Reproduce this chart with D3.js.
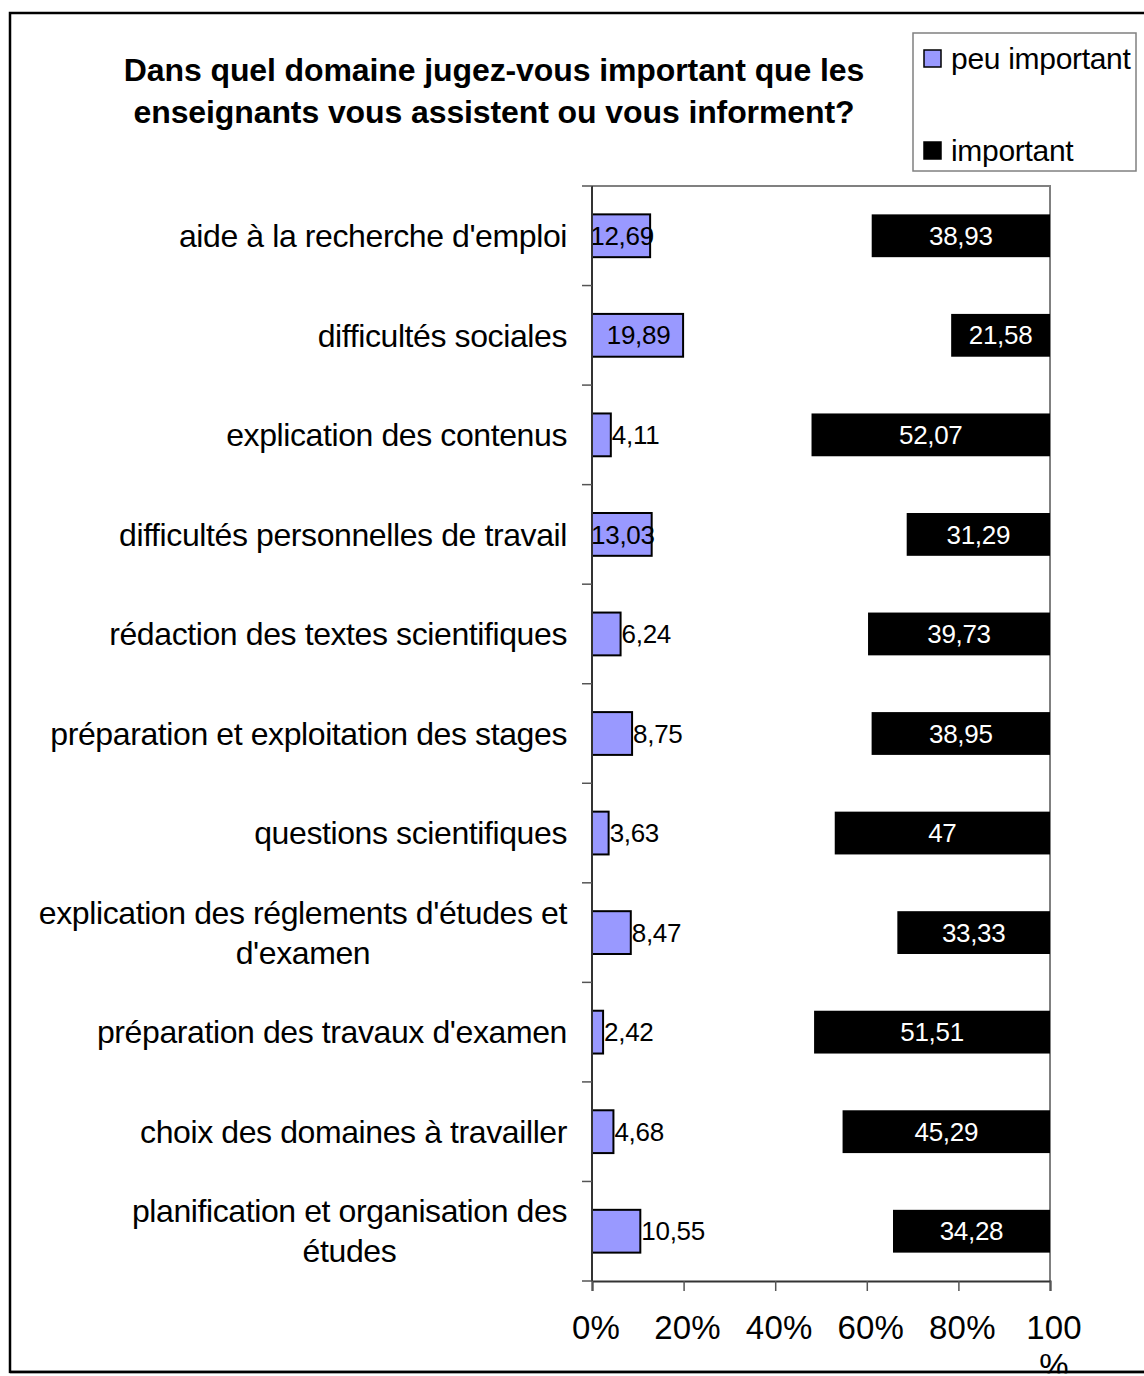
<!DOCTYPE html>
<html>
<head>
<meta charset="utf-8">
<script src="https://cdn.jsdelivr.net/npm/d3@7"></script>
<style>
  body { margin: 0; background: #fff; }
  text { font-family: "Liberation Sans", Arial, sans-serif; }
</style>
</head>
<body>
<div id="chart"></div>
<script>
// data
var categories = [
  "aide à la recherche d'emploi",
  "difficultés sociales",
  "explication des contenus",
  "difficultés personnelles de travail",
  "rédaction des textes scientifiques",
  "préparation et exploitation des stages",
  "questions scientifiques",
  "explication des réglements d'études et\nd'examen",
  "préparation des travaux d'examen",
  "choix des domaines à travailler",
  "planification et organisation des\nétudes"
];
var peuImportant = [12.69, 19.89, 4.11, 13.03, 6.24, 8.75, 3.63, 8.47, 2.42, 4.68, 10.55];
var important    = [38.93, 21.58, 52.07, 31.29, 39.73, 38.95, 47, 33.33, 51.51, 45.29, 34.28];
var xTicks = [0, 20, 40, 60, 80, 100];
var titleLines = ["Dans quel domaine jugez-vous important que les",
                  "enseignants vous assistent ou vous informent?"];
var legendLabels = ["peu important", "important"];

var W = 1144, H = 1376;
var margin = {top: 186, right: 94, bottom: 95, left: 592},
    width = W - margin.left - margin.right,
    height = H - margin.top - margin.bottom;

var svg = d3.select("#chart").append("svg")
    .attr("width", W).attr("height", H);

// outer frame
svg.append("rect")
  .attr("x", 10).attr("y", 13).attr("width", 1150).attr("height", 1359)
  .attr("fill", "none").attr("stroke", "#000").attr("stroke-width", 2.5);

// title
svg.append("text")
  .attr("text-anchor", "middle")
  .style("font-weight", "bold").style("font-size", "32px").style("letter-spacing", "-0.1px")
  .selectAll("tspan").data(titleLines).enter().append("tspan")
    .attr("x", 494).attr("y", function(d, i) { return 70 + i * 42; })
    .attr("dy", "0.35em")
    .text(function(d) { return d; });

var g = svg.append("g")
  .attr("transform", "translate(" + margin.left + "," + margin.top + ")");

var x = d3.scaleLinear().domain([0, 100]).range([0, width]);
var y = d3.scaleBand().domain(categories).range([0, height])
  .paddingInner(0.57).paddingOuter(0.285);

var fmt = function(v) { return String(v).replace(".", ","); };

// plot frame (top and right in gray)
g.append("path")
  .attr("d", "M0,0H" + width + "V" + height)
  .attr("fill", "none").attr("stroke", "#808080").attr("stroke-width", 2);

// peu important bars
g.selectAll(".peu").data(categories).enter().append("rect")
  .attr("class", "peu")
  .attr("x", x(0))
  .attr("y", function(d) { return y(d); })
  .attr("width", function(d, i) { return x(peuImportant[i]) - x(0); })
  .attr("height", y.bandwidth())
  .attr("fill", "#9999FF").attr("stroke", "#000").attr("stroke-width", 2);

// important bars, ending at 100%
g.selectAll(".imp").data(categories).enter().append("rect")
  .attr("class", "imp")
  .attr("x", function(d, i) { return x(100 - important[i]); })
  .attr("y", function(d) { return y(d); })
  .attr("width", function(d, i) { return x(100) - x(100 - important[i]); })
  .attr("height", y.bandwidth())
  .attr("fill", "#000");

// value labels
g.selectAll(".peuLab").data(categories).enter().append("text")
  .attr("class", "peuLab")
  .attr("y", function(d) { return y(d) + y.bandwidth() / 2; })
  .attr("dy", "0.35em")
  .style("font-size", "26px").style("letter-spacing", "-0.3px")
  .text(function(d, i) { return fmt(peuImportant[i]); })
  .each(function(d, i) {
    var w = this.getComputedTextLength();
    var bw = x(peuImportant[i]) - x(0);
    // centred when it nearly fits, else pushed past the bar end
    if (w - bw <= 8) {
      d3.select(this).attr("x", bw / 2 + 1).attr("text-anchor", "middle");
    } else {
      d3.select(this).attr("x", bw + 1).attr("text-anchor", "start");
    }
  });

g.selectAll(".impLab").data(categories).enter().append("text")
  .attr("class", "impLab")
  .attr("x", function(d, i) { return (x(100 - important[i]) + x(100)) / 2; })
  .attr("y", function(d) { return y(d) + y.bandwidth() / 2; })
  .attr("dy", "0.35em")
  .attr("text-anchor", "middle").attr("fill", "#fff")
  .style("font-size", "26px").style("letter-spacing", "-0.3px")
  .text(function(d, i) { return fmt(important[i]); });

// y axis line and ticks between categories
g.append("line").attr("x1", 0).attr("x2", 0).attr("y1", 0).attr("y2", height)
  .attr("stroke", "#333").attr("stroke-width", 2);
var bounds = d3.range(categories.length + 1).map(function(i) {
  return i < categories.length ? y(categories[i]) - y.step() * y.paddingInner() / 2 : height;
});
g.selectAll(".ytick").data(bounds).enter().append("line")
  .attr("x1", -10).attr("x2", 0)
  .attr("y1", function(d) { return d; }).attr("y2", function(d) { return d; })
  .attr("stroke", "#555").attr("stroke-width", 1.5);

// category labels
var labelRight = -25;
g.selectAll(".cat").data(categories).enter().append("text")
  .attr("class", "cat")
  .style("font-size", "32px").style("letter-spacing", "-0.4px")
  .each(function(d) {
    var t = d3.select(this);
    var lines = d.split("\n");
    var cy = y(d) + y.bandwidth() / 2;
    if (lines.length === 1) {
      t.attr("x", labelRight).attr("y", cy).attr("dy", "0.35em")
        .attr("text-anchor", "end").text(d);
    } else {
      var spans = t.selectAll("tspan").data(lines).enter().append("tspan")
        .attr("y", function(l, i) { return cy + (i - (lines.length - 1) / 2) * 40; })
        .attr("dy", "0.35em")
        .text(function(l) { return l; });
      var maxW = 0;
      spans.each(function() { maxW = Math.max(maxW, this.getComputedTextLength()); });
      t.attr("text-anchor", "middle");
      spans.attr("x", labelRight - maxW / 2);
    }
  });

// x axis
var xAxis = g.append("g")
  .attr("transform", "translate(0," + height + ")")
  .call(d3.axisBottom(x).tickValues(xTicks).tickSize(10).tickFormat(""));
xAxis.select(".domain").attr("stroke", "#333").attr("stroke-width", 2);
xAxis.selectAll(".tick line").attr("stroke", "#555").attr("stroke-width", 1.5);

g.selectAll(".xlab").data(xTicks).enter().append("text")
  .attr("class", "xlab")
  .attr("text-anchor", "middle")
  .style("font-size", "33px").style("letter-spacing", "0.2px")
  .each(function(d) {
    var t = d3.select(this);
    var lines = d === 100 ? ["100", "%"] : [d + "%"];
    t.selectAll("tspan").data(lines).enter().append("tspan")
      .attr("x", x(d) + 4)
      .attr("y", function(l, i) { return height + 46 + i * 38; })
      .attr("dy", "0.35em")
      .text(function(l) { return l; });
  });

// cover wrapped "%" below frame
svg.append("rect").attr("x", 0).attr("y", 1373.5).attr("width", W).attr("height", 10).attr("fill", "#fff");
svg.append("line").attr("x1", 10).attr("x2", W).attr("y1", 1372).attr("y2", 1372)
  .attr("stroke", "#000").attr("stroke-width", 2.5);

// legend
var leg = svg.append("g");
leg.append("rect").attr("x", 913).attr("y", 33).attr("width", 223).attr("height", 138)
  .attr("fill", "#fff").attr("stroke", "#808080").attr("stroke-width", 1.5);
var legColors = ["#9999FF", "#000"];
var legY = [58, 150];
legendLabels.forEach(function(l, i) {
  leg.append("rect").attr("x", 924).attr("y", legY[i] - 8).attr("width", 17).attr("height", 17)
    .attr("fill", legColors[i]).attr("stroke", "#000").attr("stroke-width", 1.5);
  leg.append("text").attr("x", 951).attr("y", legY[i]).attr("dy", "0.35em")
    .style("font-size", "30px").style("letter-spacing", "-0.3px")
    .text(l);
});
</script>
</body>
</html>
